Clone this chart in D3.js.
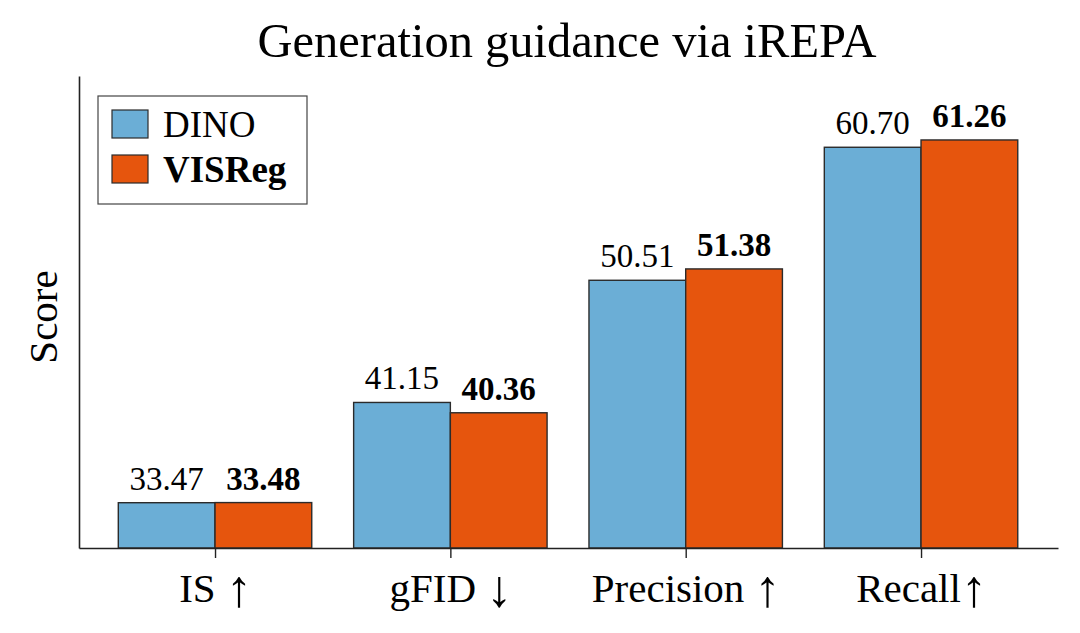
<!DOCTYPE html>
<html><head><meta charset="utf-8">
<script src="https://cdn.jsdelivr.net/npm/d3@7"></script>
<style>
html,body{margin:0;padding:0;background:#fff;}
svg{display:block;font-family:"Liberation Serif","Times New Roman",serif;}
</style></head>
<body><svg id="chart" width="1080" height="633"></svg>
<script>
const categories = ["IS \u2191", "gFID \u2193", "Precision \u2191", "Recall\u2191"];
const seriesNames = ["DINO", "VISReg"];
const dinoValues = [33.47, 41.15, 50.51, 60.70];
const visregValues = [33.48, 40.36, 51.38, 61.26];
const seriesColors = ["#6baed6", "#e6550d"];
const yMin = 30;
const yMax = 66.16;

(function () {
const svg = d3.select("#chart");
const mLeft = 79, mRight = 1058, mTop = 76, mBottom = 548;
const barW = 0.411;
const x = d3.scaleLinear().domain([-0.578, 3.582]).range([mLeft, mRight]);
const y = d3.scaleLinear().domain([yMin, yMax]).range([mBottom, mTop]);

const series = [dinoValues, visregValues];
series.forEach((vals, s) => {
  const g = svg.append("g");
  g.selectAll("rect").data(vals).join("rect")
    .attr("x", (d, i) => s === 0 ? x(i - barW) : x(i))
    .attr("width", x(barW) - x(0))
    .attr("y", d => y(d))
    .attr("height", d => y(yMin) - y(d))
    .attr("fill", seriesColors[s])
    .attr("stroke", "#2b2b2b")
    .attr("stroke-width", 1.4);
  g.selectAll("text").data(vals).join("text")
    .attr("x", (d, i) => x(i + (s === 0 ? -barW / 2 : barW / 2)))
    .attr("y", d => y(d) - 13)
    .attr("text-anchor", "middle")
    .attr("font-size", 33)
    .attr("font-weight", s === 1 ? "bold" : "normal")
    .attr("fill", "#000")
    .text(d => d.toFixed(2));
});

const xAxis = d3.axisBottom(x).tickValues([0, 1, 2, 3]).tickFormat("").tickSizeInner(10).tickSizeOuter(0);
const gx = svg.append("g").attr("transform", `translate(0,${mBottom})`).call(xAxis);
gx.select(".domain").attr("stroke", "#222").attr("stroke-width", 1.6);
gx.selectAll(".tick line").attr("stroke", "#222").attr("stroke-width", 1.4);
gx.selectAll(".tick text").remove();
gx.selectAll(".tick").each(function (i) {
  const label = categories[i];
  const arrow = label.slice(-1);
  const base = label.slice(0, -1);
  const t = d3.select(this).append("text")
    .attr("y", 54).attr("text-anchor", "middle")
    .attr("font-size", 41).attr("font-family", "Liberation Serif, serif").attr("fill", "#000");
  t.append("tspan").text(base);
  t.append("tspan").attr("font-size", 52).attr("dy", 4).text(arrow);
});

const yAxis = d3.axisLeft(y).tickValues([]).tickSizeOuter(0);
const gy = svg.append("g").attr("transform", `translate(${mLeft},0)`).call(yAxis);
gy.select(".domain").attr("stroke", "#222").attr("stroke-width", 1.6);

svg.append("text").attr("x", 567).attr("y", 57).attr("text-anchor", "middle")
  .attr("font-size", 48.5).attr("fill", "#000").text("Generation guidance via iREPA");

svg.append("text").attr("transform", "translate(57,317) rotate(-90)").attr("text-anchor", "middle")
  .attr("font-size", 41).attr("fill", "#000").text("Score");

const lg = svg.append("g");
lg.append("rect").attr("x", 98).attr("y", 96).attr("width", 209).attr("height", 108)
  .attr("fill", "#fff").attr("stroke", "#444").attr("stroke-width", 1.2);
seriesNames.forEach((n, i) => {
  lg.append("rect").attr("x", 112).attr("y", 110 + i * 45).attr("width", 36).attr("height", 28)
    .attr("fill", seriesColors[i]).attr("stroke", "#2b2b2b").attr("stroke-width", 1.2);
  lg.append("text").attr("x", 163).attr("y", 137 + i * 45).attr("font-size", 37)
    .attr("font-weight", i === 1 ? "bold" : "normal").attr("fill", "#000").text(n);
});
})();
</script></body></html>
